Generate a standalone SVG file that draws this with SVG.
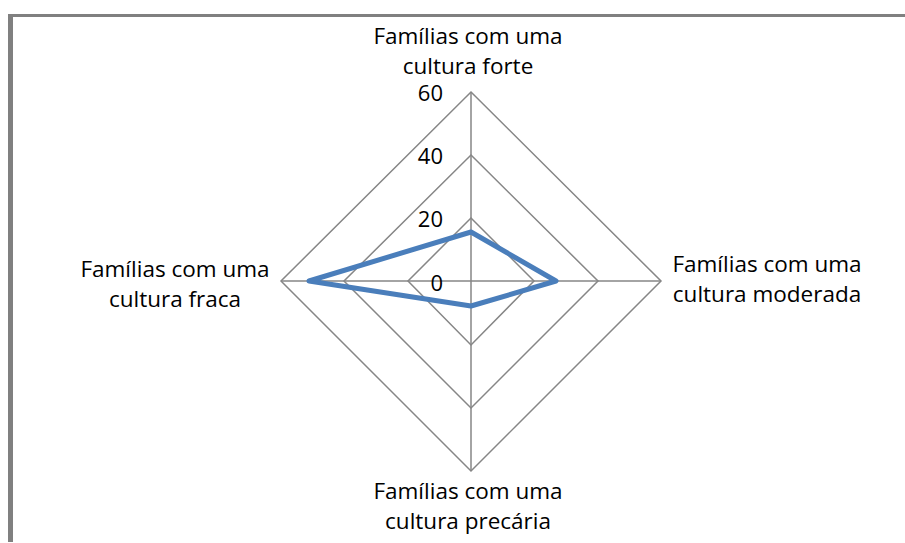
<svg xmlns="http://www.w3.org/2000/svg" width="905" height="543" viewBox="0 0 905 543">
<style>
.lbl{font-family:"Open Sans","Noto Sans","DejaVu Sans",sans-serif;font-size:22.5px;fill:#000;text-anchor:middle}
.tick{font-family:"Open Sans","Noto Sans","DejaVu Sans",sans-serif;font-size:22px;fill:#000;text-anchor:end}
.grid{fill:none;stroke:#868686;stroke-width:1.5}
.series{fill:none;stroke:#4a7ebb;stroke-width:5;stroke-linejoin:round}
</style>
<rect x="0" y="0" width="905" height="543" fill="#fff"/>
<g id="frame">
<rect x="8" y="14" width="897" height="3" fill="#808080"/>
<rect x="8" y="14" width="5" height="528" fill="#808080"/>
</g>
<g id="grid">
<polygon class="grid" points="471,92 661,281 471,471 281,281"/>
<polygon class="grid" points="471,155 598,281 471,408 344,281"/>
<polygon class="grid" points="471,218 534,281 471,345 408,281"/>
<line class="grid" x1="471" y1="92" x2="471" y2="471"/>
<line class="grid" x1="281" y1="281" x2="661" y2="281"/>
</g>
<g id="ticks">
<text class="tick" x="443" y="101">60</text>
<text class="tick" x="443" y="164">40</text>
<text class="tick" x="443" y="227">20</text>
<text class="tick" x="443" y="291">0</text>
</g>
<g id="connectors">
<polygon class="series" points="471,232 556,281 471,306 309,281"/>
</g>
<g id="node-forte">
<text class="lbl" x="468" y="44">Famílias com uma</text>
<text class="lbl" x="468" y="74">cultura forte</text>
</g>
<g id="node-moderada">
<text class="lbl" x="767" y="272">Famílias com uma</text>
<text class="lbl" x="767" y="302">cultura moderada</text>
</g>
<g id="node-precaria">
<text class="lbl" x="468" y="499">Famílias com uma</text>
<text class="lbl" x="468" y="529">cultura precária</text>
</g>
<g id="node-fraca">
<text class="lbl" x="175" y="277">Famílias com uma</text>
<text class="lbl" x="175" y="307">cultura fraca</text>
</g>
</svg>
